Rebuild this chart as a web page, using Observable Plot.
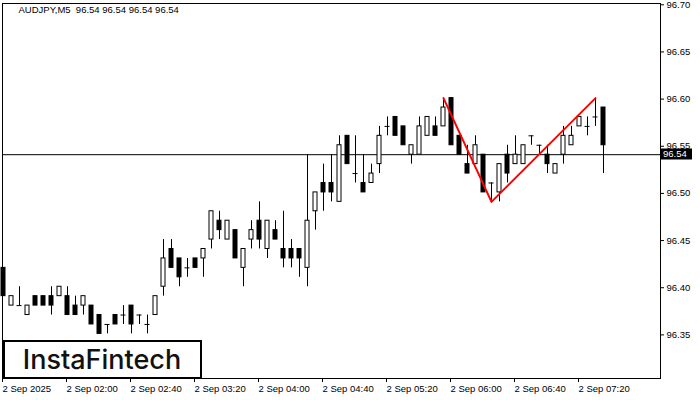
<!DOCTYPE html>
<html><head><meta charset="utf-8">
<script src="https://cdn.jsdelivr.net/npm/d3@7"></script>
<script src="https://cdn.jsdelivr.net/npm/@observablehq/plot@0.6"></script>
<style>
html,body{margin:0;padding:0;background:#fff;}
svg text{white-space:pre;}
</style></head><body><div id="chart"></div>
<script>
const symbolLabel = "AUDJPY,M5";
const currentBar = [96.54, 96.54, 96.54, 96.54];
const lastPrice = 96.54;
const brand = "InstaFintech";

const opens = [96.42,96.38,96.38,96.37,96.39,96.39,96.39,96.39,96.39,96.38,
  96.38,96.38,96.37,96.36,96.37,96.37,96.38,96.37,96.36,96.37,
  96.40,96.44,96.43,96.42,96.43,96.43,96.45,96.47,96.45,96.46,
  96.42,96.45,96.47,96.44,96.46,96.44,96.44,96.44,96.42,96.48,
  96.51,96.51,96.49,96.56,96.52,96.51,96.51,96.53,96.57,96.58,
  96.57,96.54,96.54,96.56,96.57,96.57,96.60,96.56,96.53,96.53,
  96.54,96.51,96.50,96.54,96.53,96.53,96.56,96.55,96.54,96.52,
  96.54,96.55,96.57,96.57,96.58,96.59];
const highs = [96.42,96.39,96.40,96.38,96.39,96.39,96.40,96.40,96.40,96.39,
  96.39,96.38,96.37,96.36,96.37,96.38,96.38,96.37,96.37,96.39,
  96.45,96.45,96.43,96.43,96.43,96.44,96.48,96.48,96.47,96.46,
  96.44,96.47,96.49,96.47,96.47,96.48,96.45,96.44,96.54,96.50,
  96.53,96.54,96.56,96.56,96.56,96.54,96.53,96.57,96.58,96.58,
  96.57,96.55,96.58,96.58,96.58,96.60,96.60,96.56,96.55,96.56,
  96.54,96.51,96.53,96.55,96.56,96.55,96.56,96.55,96.55,96.53,
  96.57,96.57,96.58,96.58,96.60,96.59];
const lows = [96.39,96.38,96.38,96.37,96.38,96.38,96.37,96.39,96.37,96.37,
  96.37,96.36,96.35,96.35,96.36,96.36,96.35,96.36,96.35,96.37,
  96.39,96.42,96.40,96.41,96.42,96.41,96.44,96.45,96.45,96.43,
  96.40,96.44,96.44,96.43,96.45,96.42,96.42,96.41,96.40,96.46,
  96.48,96.49,96.49,96.53,96.51,96.50,96.51,96.52,96.56,96.56,
  96.55,96.53,96.54,96.56,96.56,96.57,96.55,96.54,96.52,96.53,
  96.50,96.49,96.49,96.51,96.53,96.53,96.55,96.54,96.52,96.52,
  96.53,96.55,96.57,96.56,96.57,96.52];
const closes = [96.39,96.39,96.38,96.38,96.38,96.38,96.38,96.40,96.37,96.37,
  96.39,96.36,96.35,96.36,96.36,96.37,96.36,96.37,96.36,96.39,
  96.43,96.42,96.41,96.42,96.42,96.44,96.48,96.46,96.47,96.43,
  96.44,96.46,96.45,96.47,96.45,96.43,96.43,96.43,96.47,96.50,
  96.50,96.50,96.55,96.53,96.52,96.50,96.52,96.56,96.57,96.56,
  96.55,96.55,96.57,96.58,96.56,96.59,96.55,96.54,96.52,96.55,
  96.50,96.51,96.53,96.52,96.54,96.55,96.56,96.55,96.53,96.53,
  96.56,96.56,96.58,96.57,96.58,96.55];

const xTickIdx = [0, 8, 16, 24, 32, 40, 48, 56, 64, 72];
const xTickLabels = ["2 Sep 2025","2 Sep 02:00","2 Sep 02:40","2 Sep 03:20","2 Sep 04:00",
  "2 Sep 04:40","2 Sep 05:20","2 Sep 06:00","2 Sep 06:40","2 Sep 07:20"];
const yTicks = [96.35, 96.40, 96.45, 96.50, 96.55, 96.60, 96.65, 96.70];

const patternIdx = [55, 61, 74];
const patternPrices = [96.60, 96.49, 96.60];

const candles = opens.map((o, i) => ({i, open: o, high: highs[i], low: lows[i], close: closes[i]}));
const bulls = candles.filter(d => d.close > d.open);
const bears = candles.filter(d => d.close < d.open);
const dojis = candles.filter(d => d.close === d.open);
const pattern = patternIdx.map((i, k) => ({i, p: patternPrices[k]}));
const titleText = symbolLabel + "  " + currentBar.map(d3.format(".2f")).join(" ");

const bodyHalf = 0.25, dojiHalf = 0.3125;
const bodyOpts = {
  x1: d => d.i - bodyHalf, x2: d => d.i + bodyHalf,
  y1: d => Math.min(d.open, d.close), y2: d => Math.max(d.open, d.close),
  stroke: "#000"
};

function logo(index, scales, values, dims) {
  const bottom = dims.height - dims.marginBottom;
  const g = d3.create("svg:g");
  g.append("rect").attr("x", 4).attr("y", bottom - 37).attr("width", 197).attr("height", 37)
    .attr("fill", "#fff").attr("stroke", "#000").attr("stroke-width", 2);
  g.append("text").attr("x", 102).attr("y", bottom - 9).attr("text-anchor", "middle")
    .attr("font-family", "Inter, 'Open Sans', sans-serif").attr("font-weight", 500)
    .attr("font-size", 27).attr("fill", "#111").text(brand);
  return g.node();
}

const W = 700, H = 400, mR = 40;
const chart = Plot.plot({
  width: W, height: H,
  marginLeft: 2, marginRight: mR, marginTop: 3, marginBottom: 22,
  style: {fontFamily: "'Liberation Sans', Arial, sans-serif", fontSize: "9.5px", background: "#fff", color: "#000", overflow: "visible"},
  x: {type: "linear", domain: [-0.125, 82.125], axis: null},
  y: {domain: [96.3027, 96.7003], axis: null},
  marks: [
    Plot.ruleY([lastPrice], {stroke: "#000"}),
    Plot.ruleX(candles, {x: "i", y1: "low", y2: "high", stroke: "#000"}),
    Plot.rect(bulls, {...bodyOpts, fill: "#fff"}),
    Plot.rect(bears, {...bodyOpts, fill: "#000"}),
    Plot.ruleY(dojis, {y: "close", x1: d => d.i - dojiHalf, x2: d => d.i + dojiHalf, stroke: "#000"}),
    Plot.line(pattern, {x: "i", y: "p", stroke: "#ff0000", strokeWidth: 2}),
    Plot.frame({stroke: "#000"}),
    Plot.axisX({ticks: xTickIdx, tickFormat: d => xTickLabels[xTickIdx.indexOf(d)], anchor: "bottom",
      tickSize: 4, tickPadding: 3, textAnchor: "start", dx: -1, label: null}),
    Plot.axisY({ticks: yTicks, tickFormat: d3.format(".2f"), anchor: "right",
      tickSize: 3, tickPadding: 3, dy: 1, label: null}),
    Plot.text([titleText], {text: d => d, frameAnchor: "top-left", dx: 16, dy: 3, lineAnchor: "top", textAnchor: "start"}),
    logo
  ]
});

// current-price tag on the right axis, placed through the chart's own y scale
const yScale = chart.scale("y");
const yy = Math.round(yScale.apply(lastPrice));
const x0 = W - mR + 1;
const tag = d3.select(chart).append("g").attr("text-anchor", "start");
tag.append("rect").attr("x", x0).attr("y", yy - 5.5).attr("width", 31).attr("height", 11).attr("fill", "#000");
tag.append("text").attr("x", x0 + 2).attr("y", yy).attr("dy", "0.35em").attr("fill", "#fff")
  .attr("text-anchor", "start")
  .attr("font-family", "'Liberation Sans', Arial, sans-serif").attr("font-size", "9.5px")
  .text(d3.format(".2f")(lastPrice));

document.getElementById("chart").appendChild(chart);
</script></body></html>
